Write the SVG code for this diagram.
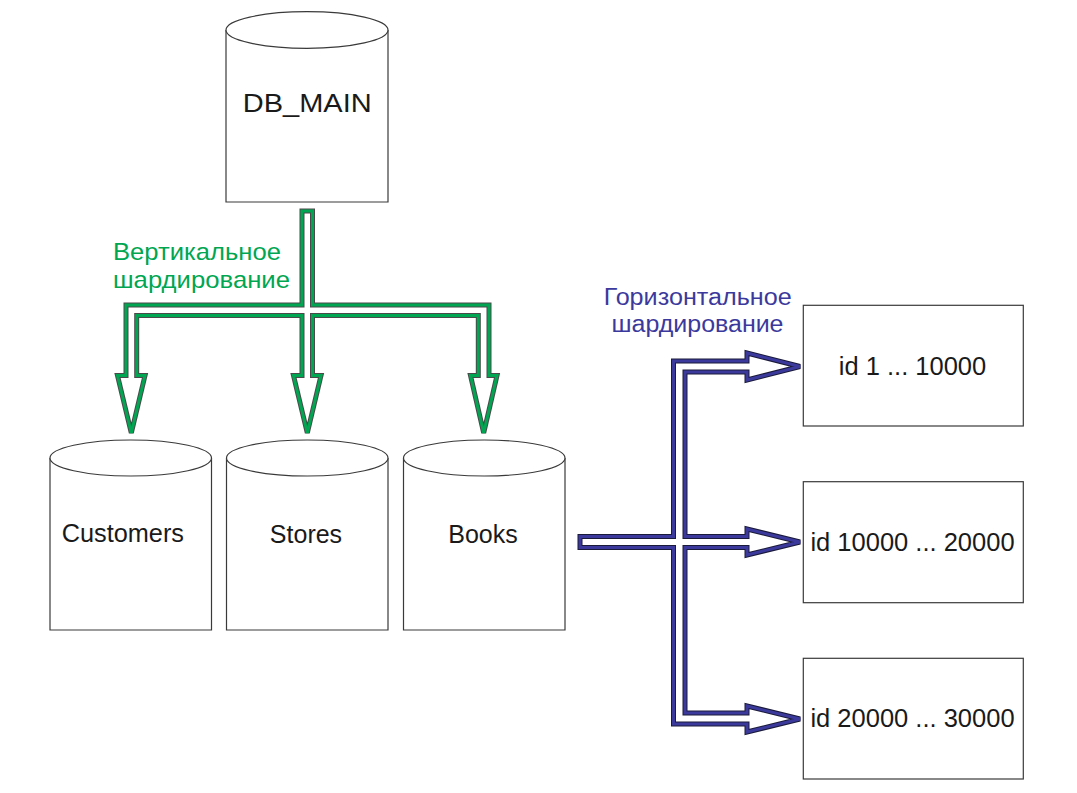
<svg xmlns="http://www.w3.org/2000/svg" width="1077" height="793" viewBox="0 0 1077 793">
<style>
  .cyl { fill: #ffffff; stroke: #3a3a3a; stroke-width: 1.2; }
  .box { fill: #ffffff; stroke: #3a3a3a; stroke-width: 1.2; }
  .lbl { font-family: "Liberation Sans", Arial, sans-serif; fill: #1a1a1a; }
  .gedge { fill: none; stroke: #4a4a4a; stroke-width: 5; stroke-linejoin: miter; }
  .gcore { fill: none; stroke: #00a651; stroke-width: 3; stroke-linejoin: miter; }
  .bedge { fill: none; stroke: #1a1a3a; stroke-width: 5; stroke-linejoin: miter; }
  .bcore { fill: none; stroke: #3b3a9c; stroke-width: 3; stroke-linejoin: miter; }
  .gtxt { font-family: "Liberation Sans", Arial, sans-serif; fill: #00a651; }
  .btxt { font-family: "Liberation Sans", Arial, sans-serif; fill: #3b3a9c; }
</style>
<rect width="1077" height="793" fill="#ffffff"/>

<g id="connectors">
  <g id="vertical-sharding">
    <path id="green-arrow-edge" class="gedge" d="M302,211 L312.5,211 L312.5,305 L489,305 L489,375.5 L497,375.5 L483.7,433 L470.5,375.5 L478.3,375.5 L478.3,315.5 L312.5,315.5 L312.5,375.5 L321,375.5 L307.3,433 L293.5,375.5 L302,375.5 L302,315.5 L136.7,315.5 L136.7,375.5 L145,375.5 L131.3,433 L117.5,375.5 L126,375.5 L126,305 L302,305 Z"/>
    <path id="green-arrow-core" class="gcore" d="M302,211 L312.5,211 L312.5,305 L489,305 L489,375.5 L497,375.5 L483.7,433 L470.5,375.5 L478.3,375.5 L478.3,315.5 L312.5,315.5 L312.5,375.5 L321,375.5 L307.3,433 L293.5,375.5 L302,375.5 L302,315.5 L136.7,315.5 L136.7,375.5 L145,375.5 L131.3,433 L117.5,375.5 L126,375.5 L126,305 L302,305 Z"/>
    <text class="gtxt" x="113" y="260" font-size="24" textLength="168" lengthAdjust="spacingAndGlyphs">Вертикальное</text>
    <text class="gtxt" x="113" y="288.3" font-size="24" textLength="177" lengthAdjust="spacingAndGlyphs">шардирование</text>
  </g>
  <g id="horizontal-sharding">
    <path id="blue-arrow-edge" class="bedge" d="M580,536.5 L673.5,536.5 L673.5,361 L747,361 L747,353 L800,366.5 L747,380 L747,372 L685,372 L685,536.5 L747,536.5 L747,529 L800,542 L747,555 L747,547.5 L685,547.5 L685,713 L747,713 L747,706 L800,719 L747,732 L747,724 L673.5,724 L673.5,547.5 L580,547.5 Z"/>
    <path id="blue-arrow-core" class="bcore" d="M580,536.5 L673.5,536.5 L673.5,361 L747,361 L747,353 L800,366.5 L747,380 L747,372 L685,372 L685,536.5 L747,536.5 L747,529 L800,542 L747,555 L747,547.5 L685,547.5 L685,713 L747,713 L747,706 L800,719 L747,732 L747,724 L673.5,724 L673.5,547.5 L580,547.5 Z"/>
    <text class="btxt" x="697.7" y="305" font-size="23" text-anchor="middle" textLength="188" lengthAdjust="spacingAndGlyphs">Горизонтальное</text>
    <text class="btxt" x="697.5" y="331.7" font-size="23" text-anchor="middle" textLength="172" lengthAdjust="spacingAndGlyphs">шардирование</text>
  </g>
</g>

<g id="db-main">
  <path class="cyl" d="M226,30 L226,202 L388,202 L388,30"/>
  <ellipse class="cyl" cx="307" cy="30" rx="81" ry="18.3"/>
  <text class="lbl" x="307.2" y="111.7" font-size="26.5" text-anchor="middle" textLength="129" lengthAdjust="spacingAndGlyphs">DB_MAIN</text>
</g>

<g id="customers">
  <path class="cyl" d="M50,458 L50,630 L211.5,630 L211.5,458"/>
  <ellipse class="cyl" cx="130.75" cy="458" rx="80.75" ry="18"/>
  <text class="lbl" x="61.7" y="541.7" font-size="25" textLength="122.3" lengthAdjust="spacingAndGlyphs">Customers</text>
</g>

<g id="stores">
  <path class="cyl" d="M226.5,458 L226.5,630 L388,630 L388,458"/>
  <ellipse class="cyl" cx="307.25" cy="458" rx="80.75" ry="18"/>
  <text class="lbl" x="306" y="543" font-size="25" text-anchor="middle">Stores</text>
</g>

<g id="books">
  <path class="cyl" d="M403.5,458 L403.5,630 L565,630 L565,458"/>
  <ellipse class="cyl" cx="484.25" cy="458" rx="80.75" ry="18"/>
  <text class="lbl" x="483" y="543" font-size="25" text-anchor="middle">Books</text>
</g>

<g id="shard-1">
  <rect class="box" x="803.3" y="305.3" width="220" height="120.7"/>
  <text class="lbl" x="912.5" y="374.5" font-size="25.5" text-anchor="middle">id 1 ... 10000</text>
</g>

<g id="shard-2">
  <rect class="box" x="803.3" y="481.7" width="220" height="121"/>
  <text class="lbl" x="912.5" y="551" font-size="25.5" text-anchor="middle">id 10000 ... 20000</text>
</g>

<g id="shard-3">
  <rect class="box" x="803.3" y="658.3" width="220" height="120.7"/>
  <text class="lbl" x="912.5" y="727.3" font-size="25.5" text-anchor="middle">id 20000 ... 30000</text>
</g>
</svg>
